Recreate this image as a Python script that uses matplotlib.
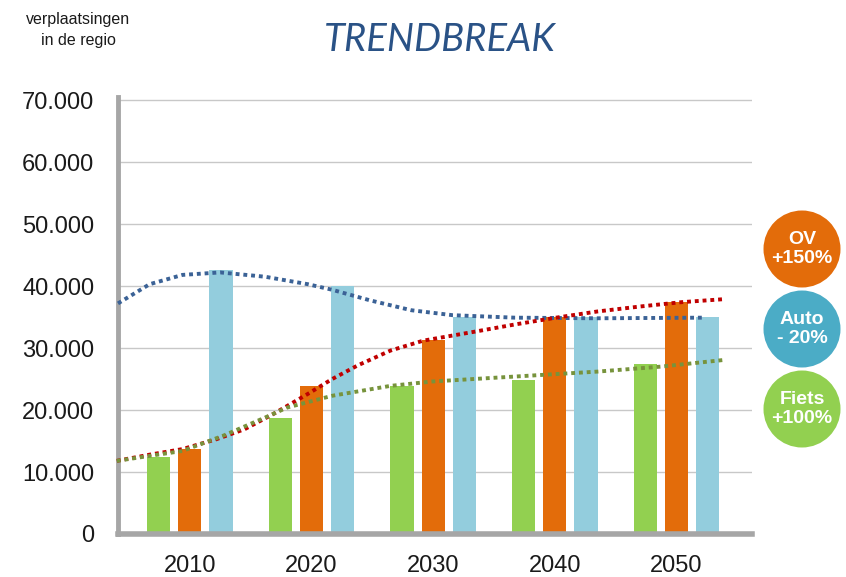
import numpy as np
import matplotlib
matplotlib.use("Agg")
import matplotlib.pyplot as plt
from matplotlib.patches import Circle
from matplotlib.ticker import FuncFormatter

plt.rcParams['font.family'] = ['Liberation Sans', 'DejaVu Sans']

# data
years = ['2010', '2020', '2030', '2040', '2050']
fiets = [12500, 18700, 23800, 24900, 27400]
ov = [13700, 23800, 31300, 35000, 37500]
auto = [42600, 40000, 35000, 35000, 35000]

# trend lines (x in category units, 0 = 2010)
auto_tx = [-0.59, -0.33, -0.06, 0.25, 0.62, 0.97, 1.17, 1.48, 1.82, 2.16, 2.67, 3.35, 4.22]
auto_ty = [37200, 40300, 41800, 42200, 41500, 40300, 39400, 37700, 36100, 35300, 34900, 34800, 34900]
ov_tx = [-0.6, -0.33, -0.06, 0.22, 0.45, 0.69, 0.97, 1.17, 1.38, 1.65, 1.92, 2.33, 2.67, 3.01, 3.35, 3.7, 4.04, 4.4]
ov_ty = [11800, 12800, 13700, 15300, 16900, 19400, 22600, 25000, 27200, 29600, 31200, 32600, 33800, 34900, 35900, 36700, 37400, 37900]
fiets_tx = [-0.6, -0.06, 0.28, 0.62, 0.8, 1.17, 1.65, 1.99, 2.67, 3.35, 3.87, 4.4]
fiets_ty = [11800, 13400, 15900, 18800, 20400, 22300, 23900, 24600, 25400, 26200, 27000, 28100]

badges = [('OV\n+150%', '#E36C0A'), ('Auto\n- 20%', '#4BACC6'), ('Fiets\n+100%', '#92D050')]

fig = plt.figure(figsize=(8.46, 5.77), dpi=100)
ax = fig.add_axes([118 / 846, 1 - 534 / 577, (752 - 118) / 846, (534 - 97) / 577])

x = np.arange(len(years))
w = 0.19
ax.bar(x - 0.256, fiets, w, color='#92D050', zorder=2)
ax.bar(x, ov, w, color='#E36C0A', zorder=2)
ax.bar(x + 0.256, auto, w, color='#93CDDD', zorder=2)

dot = dict(linestyle=(0, (1, 1)), linewidth=2.8, dash_capstyle='butt', zorder=3, clip_on=False)
ax.plot(auto_tx, auto_ty, color='#3B6296', **dot)
ax.plot(ov_tx, ov_ty, color='#C00000', **dot)
ax.plot(fiets_tx, fiets_ty, color='#77933C', **dot)

ax.set_xlim(-0.59, 4.62)
ax.set_ylim(0, 70500)
ax.set_yticks(range(0, 70001, 10000))
ax.yaxis.set_major_formatter(FuncFormatter(lambda v, p: f'{int(v):,}'.replace(',', '.')))
ax.set_xticks(x)
ax.set_xticklabels(years)
ax.tick_params(axis='y', length=0, pad=17, labelsize=17, labelcolor='#1a1a1a')
ax.tick_params(axis='x', length=0, pad=15, labelsize=17, labelcolor='#1a1a1a')
ax.grid(axis='y', color='#C8C8C8', linewidth=1.0, zorder=0)
ax.set_axisbelow(True)

for s in ['top', 'right']:
    ax.spines[s].set_visible(False)
ax.spines['left'].set_color('#A6A6A6')
ax.spines['left'].set_linewidth(3.5)
ax.spines['bottom'].set_color('#A6A6A6')
ax.spines['bottom'].set_linewidth(4)

fig.text(440 / 846, 1 - 40 / 577, 'TRENDBREAK', ha='center', va='center',
         fontsize=27.5, style='italic', color='#2A5286', family=['Lato', 'DejaVu Sans'])
fig.text(78 / 846, 1 - 30 / 577, 'verplaatsingen\nin de regio', ha='center', va='center',
         fontsize=11.5, color='#1a1a1a', linespacing=1.55)

for i, (label, col) in enumerate(badges):
    cy = (577 - (249 + 80 * i)) / 100
    fig.add_artist(Circle((8.02, cy), 0.385, transform=fig.dpi_scale_trans,
                          facecolor=col, edgecolor='none'))
    fig.text(802 / 846, cy / 5.77, label, ha='center', va='center', color='white',
             fontsize=14, fontweight='bold', linespacing=1.1)

fig.savefig('out.png', dpi=100)
